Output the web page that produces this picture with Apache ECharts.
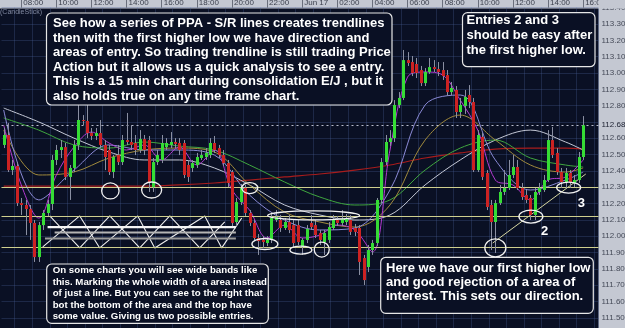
<!DOCTYPE html>
<html>
<head>
<meta charset="utf-8">
<script src="https://cdn.jsdelivr.net/npm/echarts@6/dist/echarts.min.js"></script>
<style>
html,body{margin:0;padding:0;background:#0a1024;}
#chart{width:625px;height:328px;}
</style>
</head>
<body>
<div id="chart"></div>
<script>
// 15 min EUR/JPY candles, 07:00 Jun 16 -> 16:00 Jun 17
var opens = [
112.559,112.620,112.405,112.430,112.203,112.191,112.166,112.081,111.872,112.068,
112.142,112.197,112.467,112.528,112.546,112.363,112.418,112.559,112.712,112.706,
112.632,112.614,112.632,112.559,112.528,112.393,112.497,112.454,112.589,112.577,
112.571,112.528,112.595,112.589,112.301,112.454,112.467,112.546,112.559,112.577,
112.571,112.571,112.436,112.418,112.436,112.479,112.485,112.497,112.571,112.540,
112.497,112.448,112.393,112.087,112.209,112.295,112.142,112.081,111.989,111.977,
111.958,111.977,112.099,112.099,112.050,112.087,112.068,112.068,111.934,111.977,
112.081,112.068,112.019,111.964,111.977,112.050,112.099,112.081,112.087,112.099,
112.050,112.050,111.866,111.811,111.915,111.958,112.222,112.454,112.577,112.601,
112.804,112.847,113.079,113.067,113.055,113.018,112.938,113.006,113.036,113.024,
113.018,112.987,112.883,112.896,112.761,112.798,112.865,112.822,112.405,112.608,
112.387,112.191,112.087,112.203,112.271,112.295,112.375,112.424,112.295,112.252,
112.234,112.130,112.271,112.283,112.344,112.589,112.510,112.393,112.332,112.387,
112.326,112.344,112.485];
var closes = [
112.620,112.405,112.430,112.203,112.191,112.166,112.081,111.872,112.068,112.142,
112.197,112.467,112.528,112.546,112.363,112.418,112.559,112.712,112.706,112.632,
112.614,112.632,112.559,112.485,112.393,112.485,112.454,112.589,112.577,112.559,
112.528,112.595,112.528,112.326,112.454,112.497,112.571,112.571,112.577,112.565,
112.528,112.375,112.363,112.448,112.485,112.497,112.510,112.571,112.528,112.497,
112.448,112.326,112.081,112.209,112.295,112.142,112.081,111.989,111.970,111.964,
111.977,112.111,112.117,112.050,112.087,112.038,111.958,111.964,111.977,112.044,
112.056,112.007,111.977,112.019,112.056,112.099,112.081,112.105,112.111,112.026,
112.026,111.842,111.731,111.915,111.958,112.222,112.454,112.577,112.601,112.804,
112.847,113.079,113.061,113.000,113.000,112.938,113.006,113.036,113.024,113.006,
112.981,112.883,112.908,112.761,112.804,112.853,112.822,112.405,112.620,112.363,
112.179,112.087,112.203,112.271,112.295,112.375,112.424,112.295,112.240,112.222,
112.130,112.271,112.295,112.344,112.589,112.497,112.393,112.332,112.387,112.332,
112.344,112.485,112.680];
var lows = [
112.540,112.393,112.375,112.185,112.130,112.007,111.977,111.842,111.842,112.038,
112.124,112.160,112.436,112.479,112.344,112.222,112.393,112.528,112.681,112.601,
112.589,112.589,112.540,112.405,112.375,112.356,112.436,112.436,112.559,112.528,
112.497,112.510,112.497,112.271,112.271,112.436,112.448,112.528,112.540,112.540,
112.497,112.356,112.332,112.393,112.418,112.467,112.467,112.479,112.510,112.479,
112.430,112.301,112.062,112.062,112.191,112.124,112.062,111.970,111.885,111.928,
111.940,111.958,112.087,112.026,112.038,112.019,111.934,111.946,111.885,111.958,
112.038,111.989,111.946,111.885,111.958,112.038,112.062,112.062,112.068,112.007,
112.001,111.762,111.701,111.780,111.885,111.940,112.203,112.436,112.552,112.577,
112.785,112.834,113.043,112.981,112.969,112.920,112.920,112.994,113.006,112.981,
112.957,112.859,112.865,112.724,112.724,112.749,112.785,112.393,112.393,112.344,
112.160,111.915,111.897,112.191,112.252,112.283,112.356,112.283,112.222,112.203,
112.099,112.099,112.252,112.271,112.332,112.479,112.375,112.295,112.295,112.295,
112.301,112.326,112.467];
var highs = [
112.663,112.693,112.467,112.454,112.234,112.222,112.191,112.099,112.087,112.160,
112.222,112.497,112.559,112.589,112.571,112.436,112.589,112.816,112.742,112.804,
112.663,112.663,112.712,112.589,112.559,112.497,112.559,112.620,112.755,112.681,
112.620,112.650,112.620,112.614,112.479,112.528,112.620,112.601,112.638,112.601,
112.601,112.589,112.467,112.467,112.510,112.528,112.540,112.601,112.614,112.559,
112.528,112.467,112.405,112.234,112.320,112.314,112.160,112.099,112.013,112.001,
112.001,112.148,112.160,112.130,112.111,112.130,112.099,112.099,111.989,112.068,
112.130,112.099,112.038,112.038,112.087,112.130,112.124,112.160,112.136,112.130,
112.075,112.068,111.885,111.946,111.977,112.234,112.479,112.620,112.650,112.834,
112.883,113.141,113.128,113.104,113.092,113.043,113.030,113.092,113.079,113.067,
113.067,113.018,112.945,112.920,112.847,112.896,112.926,112.847,112.650,112.632,
112.405,112.222,112.222,112.314,112.405,112.467,112.497,112.467,112.326,112.283,
112.252,112.295,112.326,112.375,112.650,112.669,112.540,112.418,112.418,112.405,
112.375,112.516,112.736];

// moving averages, fast one every 4 bars, the rest every 8 (+ last bar)
var maPurple = [112.681,112.314,112.111,112.375,112.546,112.638,112.571,112.528,112.559,112.467,
112.546,112.436,112.528,112.283,112.160,111.989,112.068,111.989,112.007,112.068,
112.038,111.903,112.528,112.975,113.006,112.987,112.834,112.650,112.344,112.314,
112.222,112.344,112.363,112.467];
var maLavender = [112.773,112.222,112.405,112.559,112.528,112.528,112.497,112.252,112.099,112.038,
112.050,112.283,112.804,112.865,112.467,112.283,112.344,112.393];
var maOlive = [112.650,112.375,112.393,112.479,112.528,112.540,112.516,112.314,112.148,112.087,
112.056,112.191,112.589,112.742,112.589,112.436,112.393,112.418];
var maGreen = [112.724,112.650,112.559,112.540,112.577,112.552,112.528,112.436,112.332,112.240,
112.191,112.222,112.405,112.540,112.589,112.479,112.436,112.424];
var maWhite = [112.785,112.700,112.601,112.516,112.467,112.467,112.418,112.314,112.191,112.130,
112.099,112.130,112.314,112.467,112.589,112.650,112.577,112.528];
var maRed = [112.307,112.307,112.307,112.307,112.307,112.314,112.326,112.344,112.363,112.381,
112.405,112.436,112.479,112.510,112.534,112.540,112.540,112.534];

// S/R levels and drawings (bar index, price)
var levels = [112.30, 112.12, 111.93];
var lastPrice = 112.68;
var trendLine = [[111.4, 111.958], [132.6, 112.381]];
var zigA = [[10.49,112.124],[17.32,111.928],[24.16,112.124],[30.99,111.928],[37.83,112.124],[44.66,111.928],[50.36,112.087]];
var zigB = [[8.90,111.934],[17.32,112.124],[21.88,111.928],[30.54,112.124],[34.41,111.928],[45.80,112.124],[49.67,111.928],[54.23,112.111]];
var bandLines = [
  [[10.0,112.056],[52.9,112.056]],
  [[11.6,112.022],[52.9,112.022]],
  [[9.4,111.986],[52.9,111.986]]
];
var rings = [
  [24.3,112.277,8.7,8],[33.7,112.283,10,8],[56.05,112.295,8,5.5],[59.5,111.952,13,5.5],
  [70.6,112.127,46,4.5],[67.7,111.915,11,4],[72.45,111.918,7.5,7.5],
  [112.0,111.928,10.5,9],[120.1,112.120,12,6.5],[128.7,112.298,12,5.5]
];
var marks = [['2',123.2,112.027],['3',131.6,112.203]];

var notes = [
  {x:46.5, y:13, w:345.5, h:92, tx:53, ty:23.5, step:14.6, size:13, lines:[
    'See how a series of PPA - S/R lines creates trendlines',
    'then with the first higher low we have direction and',
    'areas of entry. So trading trendline is still trading Price',
    'Action but it allows us a quick analysis to see a entry.',
    'This is a 15 min chart during consolidation E/J , but it',
    'also holds true on any time frame chart.']},
  {x:462.5, y:12.7, w:132.5, h:54, tx:466.5, ty:20.3, step:15, size:13, lines:[
    'Entries 2 and 3',
    'should be easy after',
    'the first higher low.']},
  {x:46.7, y:264, w:221.6, h:59.3, tx:52.7, ty:270.8, step:11.5, size:9.7, lines:[
    'On some charts you will see wide bands like',
    'this. Marking the whole width of a area instead',
    'of just a line. But you can see to the right that',
    'bot the bottom of the area and the top have',
    'some value. Giving us two possible entries.']},
  {x:380.7, y:257.3, w:212.6, h:56, tx:386, ty:268.5, step:14.2, size:13, lines:[
    'Here we have our first higher low',
    'and good rejection of a area of',
    'interest. This sets our direction.']}
];

var times = [];
for (var i = 0; i < 136; i++) {
  var m = (7 * 60 + i * 15) % 1440;
  var hh = Math.floor(m / 60), mm = m % 60;
  times.push((hh < 10 ? '0' : '') + hh + ':' + (mm < 10 ? '0' : '') + mm);
}

var candles = opens.map(function (o, i) {
  return [i, o, closes[i], lows[i], highs[i]];
});

function pairs(vals, step) {
  return vals.map(function (v, i) { return [Math.min(i * step, opens.length - 1), v]; });
}

var FONT = '"Liberation Sans", Arial, sans-serif';

function maLine(name, vals, step, color, width) {
  return {
    name: name, type: 'line', xAxisIndex: 1, yAxisIndex: 0,
    data: pairs(vals, step), smooth: 0.35, symbol: 'none', silent: true, z: 3,
    lineStyle: {color: color, width: width || 1}
  };
}

function drawLine(data, color, width) {
  return {
    type: 'line', xAxisIndex: 1, yAxisIndex: 0, data: data, symbol: 'none',
    silent: true, z: 4, lineStyle: {color: color, width: width}
  };
}

var chart = echarts.init(document.getElementById('chart'));

var series = [
  maLine('red', maRed, 8, '#a81c1c', 1.2),
  maLine('white', maWhite, 8, '#c4c8d6'),
  maLine('green', maGreen, 8, '#3fa63f'),
  maLine('olive', maOlive, 8, '#a08a3c'),
  maLine('lavender', maLavender, 8, '#8a8ad6'),
  maLine('purple', maPurple, 4, '#b23ad0'),
  {
    name: 'candles', type: 'custom', xAxisIndex: 1, yAxisIndex: 0, z: 5,
    data: candles,
    encode: {x: 0, y: [1, 2, 3, 4]},
    renderItem: function (params, api) {
      var k = api.value(0), o = api.value(1), c = api.value(2);
      var pl = api.coord([k, api.value(3)]), ph = api.coord([k, api.value(4)]);
      var po = api.coord([k, o]), pc = api.coord([k, c]);
      var x = Math.round(po[0]);
      var y0 = Math.min(po[1], pc[1]), y1 = Math.max(po[1], pc[1]);
      var up = c >= o;
      return {
        type: 'group',
        children: [
          {type: 'line', shape: {x1: x + 0.5, y1: ph[1], x2: x + 0.5, y2: pl[1]},
            style: {stroke: '#8a8fa2', lineWidth: 1}},
          {type: 'rect', shape: {x: x - 1, y: y0, width: 3, height: Math.max(1, y1 - y0)},
            style: {fill: up ? '#35dc35' : '#cc2222'}}
        ]
      };
    },
    markLine: {
      symbol: 'none', silent: true, animation: false,
      data: levels.map(function (v) {
        return {yAxis: v, lineStyle: {color: '#cfcf8e', width: 1.1, type: 'solid'}, label: {show: false}};
      }).concat([{
        yAxis: lastPrice,
        lineStyle: {color: '#b8bccc', width: 1, type: [2, 3]},
        label: {show: true, position: 'end', distance: 3, formatter: lastPrice.toFixed(2),
          color: '#1c2030', fontSize: 8, fontFamily: FONT}
      }])
    }
  },
  drawLine(trendLine, '#d6d6a0', 1),
  drawLine(zigA, '#eeeeee', 1.1),
  drawLine(zigB, '#eeeeee', 1.1),
  drawLine(bandLines[0], '#f4f4f4', 2.2),
  drawLine(bandLines[1], '#b4b4b4', 2),
  drawLine(bandLines[2], '#9a9a9a', 2)
];

var labelEvery = function (i) { return (i - 4) % 8 === 0; };

chart.setOption({
  animation: false,
  backgroundColor: '#0a1024',
  grid: {left: 1.5, top: 7.7, width: 597, height: 326.4, containLabel: false, outerBoundsMode: 'none'},
  xAxis: [{
    type: 'category', data: times, position: 'top', boundaryGap: true,
    axisLine: {show: false},
    axisTick: {show: true, interval: labelEvery, alignWithLabel: true, length: 8,
      lineStyle: {color: '#6a6f7c'}},
    axisLabel: {interval: labelEvery, align: 'left', margin: 1, padding: [0, 0, 0, 2],
      color: '#3a3f4c', fontSize: 8, fontFamily: FONT,
      formatter: function (v) { return v === '00:00' ? 'Jun 17' : v; }},
    splitLine: {show: true, interval: function (i) { return i % 4 === 3; },
      lineStyle: {color: 'rgba(70,92,145,0.32)', width: 1}}
  }, {
    type: 'value', min: -0.5, max: 135.5, show: false
  }],
  yAxis: [{
    type: 'value', position: 'right', min: 111.4, max: 113.4, interval: 0.1,
    axisLine: {show: false}, axisTick: {show: false},
    axisLabel: {color: '#454a58', fontSize: 8, fontFamily: FONT, margin: 3,
      formatter: function (v) { return Math.abs(v - 112.7) < 1e-6 ? '' : v.toFixed(2); }},
    splitLine: {lineStyle: {color: 'rgba(70,92,145,0.32)', width: 1}}
  }],
  series: series
});

// panels, rings and notes are placed after the axes exist
var g = [
  {type: 'rect', z: -1, shape: {x: 598.5, y: 0, width: 27, height: 328}, style: {fill: '#c4c8d2'}},
  {type: 'rect', z: -1, shape: {x: 0, y: 0, width: 625, height: 8.6}, style: {fill: '#c4c8d2'}},
  {type: 'rect', z: 40, shape: {x: 598.5, y: 0, width: 27, height: 8.6}, style: {fill: '#c4c8d2'}},
  {type: 'text', z: 10, style: {text: '(CandleStick)', x: 0, y: 12.5, verticalAlign: 'middle',
    fill: '#8088a0', font: '7px ' + FONT}}
];

rings.forEach(function (r) {
  var p = chart.convertToPixel({xAxisIndex: 1, yAxisIndex: 0}, [r[0], r[1]]);
  g.push({type: 'ellipse', z: 20, shape: {cx: p[0], cy: p[1], rx: r[2], ry: r[3]},
    style: {fill: 'none', stroke: '#f2f2f2', lineWidth: 1.3}});
});

marks.forEach(function (mk) {
  var p = chart.convertToPixel({xAxisIndex: 1, yAxisIndex: 0}, [mk[1], mk[2]]);
  g.push({type: 'text', z: 20, style: {text: mk[0], x: p[0], y: p[1], align: 'center',
    verticalAlign: 'middle', fill: '#ffffff', font: 'bold 13px ' + FONT}});
});

notes.forEach(function (n) {
  g.push({type: 'rect', z: 50, shape: {x: n.x, y: n.y, width: n.w, height: n.h, r: 5},
    style: {fill: '#0a1024', stroke: '#e6e6e6', lineWidth: 1.2}});
  n.lines.forEach(function (t, j) {
    g.push({type: 'text', z: 51, style: {text: t, x: n.tx, y: n.ty + j * n.step,
      verticalAlign: 'middle', fill: '#ffffff', font: 'bold ' + n.size + 'px ' + FONT}});
  });
});

chart.setOption({graphic: {elements: g}});
</script>
</body>
</html>
